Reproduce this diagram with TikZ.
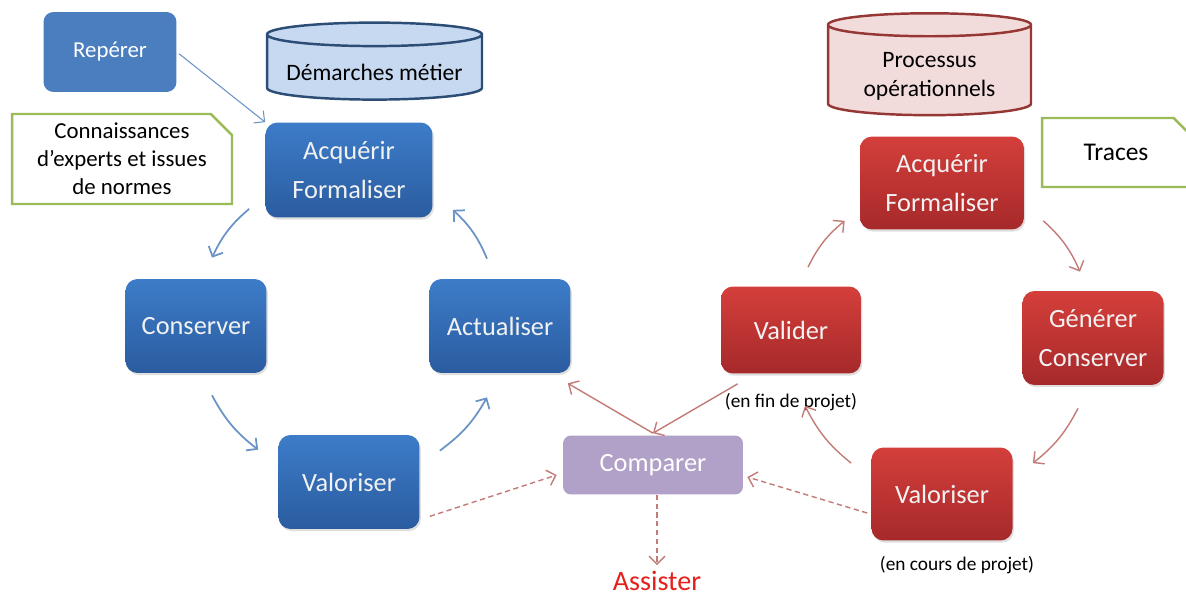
\documentclass[tikz,border=0pt]{standalone}
\usepackage{fontspec}
\setmainfont{Carlito}
\usetikzlibrary{arrows.meta,positioning,shapes.geometric,shapes.misc,shadows}

\definecolor{blueTop}{HTML}{3D7CC9}
\definecolor{blueBot}{HTML}{2A5C9F}
\definecolor{redTop}{HTML}{D43F3B}
\definecolor{redBot}{HTML}{A6292A}
\definecolor{repBlue}{HTML}{4A7EBF}
\definecolor{cmpViolet}{HTML}{B1A0C7}
\definecolor{noteGreen}{HTML}{9BBB59}
\definecolor{cylBlueFill}{HTML}{C6D9F1}
\definecolor{cylBlueLine}{HTML}{2C4D75}
\definecolor{cylRedFill}{HTML}{F2DCDB}
\definecolor{cylRedLine}{HTML}{953735}
\definecolor{arrBlue}{HTML}{6A93C6}
\definecolor{arrRed}{HTML}{C27B77}
\definecolor{assistRed}{HTML}{E3201E}

\begin{document}
\begin{tikzpicture}[
    x=0.02cm, y=-0.02cm,
    box/.style={rectangle, rounded corners=0.24cm, minimum width=2.82cm, minimum height=1.88cm, align=center, text=white!95!black, font=\fontsize{15}{22.5}\selectfont, drop shadow={opacity=0.25, shadow xshift=0.8pt, shadow yshift=-1.2pt}},
    bluebox/.style={box, top color=blueTop, bottom color=blueBot},
    redbox/.style={box, top color=redTop, bottom color=redBot},
    note/.style={chamfered rectangle, chamfered rectangle corners=north east, chamfered rectangle xsep=0.26cm, chamfered rectangle ysep=0.16cm, draw=noteGreen, line width=1.4pt, fill=white, align=center, inner ysep=0pt},
    base/.style={cylinder, shape border rotate=90, line width=1.4pt, font=\fontsize{13.4}{16.6}\selectfont},
    annot/.style={inner sep=0pt, font=\fontsize{11}{13}\selectfont},
    bluearr/.style={-{Straight Barb[length=4.5pt, width=9pt]}, arrBlue, line width=1pt},
    redarr/.style={-{Straight Barb[length=4.5pt, width=9pt]}, arrRed, line width=0.8pt},
    dasharr/.style={redarr, dash pattern=on 3pt off 2pt}
]
\useasboundingbox (0,0) rectangle (1186,598);

% Demarches metier
\node[base, aspect=0.125, draw=cylBlueLine, fill=cylBlueFill, minimum width=4.3cm, minimum height=1.54cm] (dem) at (374.5,69.5)
    {\raisebox{-0.05cm}[\height][\depth]{D\'emarches m\'etier}};
\node[rectangle, rounded corners=0.2cm, fill=repBlue, text=white, minimum width=2.66cm, minimum height=1.6cm, font=\fontsize{13}{16}\selectfont] (rep) at (110,52) {Rep\'erer};
\node[note, minimum width=4.4cm, minimum height=1.8cm, font=\fontsize{13}{16}\selectfont] (conn) at (122,159) {Connaissances\\d'experts et issues\\de normes};

\node[bluebox, minimum width=3.34cm, minimum height=1.9cm] (bacq) at (349,170) {Acqu\'erir\\Formaliser};
\node[bluebox] (cons) at (196,326) {Conserver};
\node[bluebox] (actu) at (500,326) {Actualiser};
\node[bluebox] (bvalo) at (349,482) {Valoriser};

% Processus operationnels
\node[base, aspect=0.16, draw=cylRedLine, fill=cylRedFill, minimum width=4.06cm, minimum height=1.58cm] (proc) at (929.5,72.5)
    {\raisebox{-0.07cm}[\height][\depth]{\begin{tabular}{@{}c@{}}Processus\\op\'erationnels\end{tabular}}};
\node[note, minimum width=2.96cm, minimum height=1.38cm, font=\fontsize{14.5}{17}\selectfont] (trac) at (1116,152.5) {Traces};

\node[redbox, minimum width=3.28cm, minimum height=1.86cm] (racq) at (942,183) {Acqu\'erir\\Formaliser};
\node[redbox, minimum width=2.8cm, minimum height=1.74cm] (valid) at (791,330) {Valider};
\node[redbox] (gen) at (1093,338) {G\'en\'erer\\Conserver};
\node[redbox, minimum height=1.86cm] (rvalo) at (942,494) {Valoriser};

\node[rectangle, rounded corners=0.16cm, fill=cmpViolet, text=white, minimum width=3.6cm, minimum height=1.18cm, font=\fontsize{15}{18}\selectfont] (comp) at (653,465) {Comparer};
\node[text=assistRed, font=\fontsize{16}{19}\selectfont] (assist) at (657,581) {Assister};

% Annotations
\node[annot, below=0.38cm of valid] (fin) {(en fin de projet)};
\node[annot, below=0.3cm of rvalo, xshift=0.3cm] (cours) {(en cours de projet)};

% Cycle demarches
\draw[bluearr, line width=0.6pt, shorten <=1.7pt] (rep.east) -- (bacq.north west);
\draw[bluearr] ([shift={(-16,-9)}]bacq.south west) to[bend right=12] ([shift={(16,-21)}]cons.north);
\draw[bluearr] ([shift={(16,22)}]cons.south) to[bend right=12] ([shift={(-20,15)}]bvalo.north west);
\draw[bluearr] ([shift={(20,16)}]bvalo.north east) to[bend right=12] ([shift={(-13,24)}]actu.south);
\draw[bluearr] ([shift={(-13,-20)}]actu.north) to[bend right=12] ([shift={(20,-8)}]bacq.south east);

% Cycle processus
\draw[redarr] ([shift={(17,-19)}]valid.north) to[bend left=12] ([shift={(-15,-9)}]racq.south west);
\draw[redarr] ([shift={(19,-9)}]racq.south east) to[bend left=12] ([shift={(-13,-19)}]gen.north);
\draw[redarr] ([shift={(-15,23)}]gen.south) to[bend left=12] ([shift={(20,16)}]rvalo.north east);
\draw[redarr] ([shift={(-20,16)}]rvalo.north west) to[bend left=12] ([shift={(14,32)}]valid.south);

% Comparaison
\draw[redarr] ([shift={(17,10)}]valid.south west) -- ([shift={(0,-2)}]comp.north);
\draw[redarr] ([shift={(0,-2)}]comp.north) -- ([shift={(-3,10)}]actu.south east);
\draw[dasharr] ([shift={(10,-13)}]bvalo.south east) -- ([shift={(-6,10)}]comp.west);
\draw[dasharr] ([shift={(-4,19)}]rvalo.west) -- ([shift={(4,12)}]comp.east);
\draw[dasharr] (comp.south -| assist.north) -- (assist.north);
\end{tikzpicture}
\end{document}
